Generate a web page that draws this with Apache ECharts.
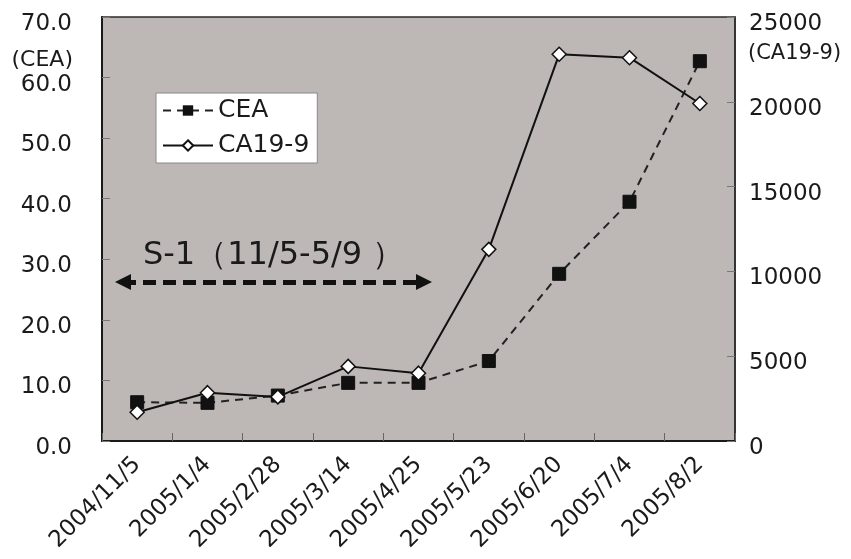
<!DOCTYPE html>
<html>
<head>
<meta charset="utf-8">
<script src="https://cdn.jsdelivr.net/npm/echarts@6/dist/echarts.min.js"></script>
<style>
  html, body { margin: 0; padding: 0; background: #fff; }
  #chart { width: 851px; height: 559px; }
</style>
</head>
<body>
<div id="chart"></div>
<script>
// 日付ラベル
const dates = ['2004/11/5', '2005/1/4', '2005/2/28', '2005/3/14', '2005/4/25',
  '2005/5/23', '2005/6/20', '2005/7/4', '2005/8/2']
// CEA (左軸)
const ceaValues = [6.4, 6.3, 7.5, 9.6, 9.6, 13.2, 27.6, 39.5, 62.7]
// CA19-9 (右軸)
const ca199Values = [1700, 2850, 2600, 4400, 4000, 11300, 22800, 22600, 19900]

const FONT = 'DejaVu Sans'

const chart = echarts.init(document.getElementById('chart'))

// ラベルを少し下にずらす
const lowRich = { a: { fontFamily: FONT, fontSize: 23, color: '#1a1a1a', padding: [14, 0, 0, 0] } }

const option = {
  animation: false,
  textStyle: { fontFamily: FONT, color: '#1a1a1a' },
  grid: {
    left: 102, right: 116, top: 17, bottom: 118,
    show: true,
    backgroundColor: '#bdb7b5',
    borderColor: '#2a2a2a',
    borderWidth: 1.5
  },
  legend: {
    left: 156, top: 93,
    orient: 'vertical',
    itemGap: 10,
    itemWidth: 50,
    itemHeight: 13,
    padding: [5, 8, 5, 6],
    backgroundColor: '#fff',
    borderColor: '#888',
    borderWidth: 1,
    borderRadius: 0,
    textStyle: { fontFamily: FONT, fontSize: 25, color: '#1a1a1a' },
    data: ['CEA', 'CA19-9']
  },
  xAxis: {
    type: 'category',
    data: dates,
    boundaryGap: true,
    axisLine: { lineStyle: { color: '#1a1a1a', width: 2 } },
    axisTick: { show: true, inside: true, length: 8, lineStyle: { color: '#666' } },
    axisLabel: {
      rotate: 45, margin: 20, interval: 0,
      fontFamily: FONT, fontSize: 23, color: '#1a1a1a'
    },
    splitLine: { show: false }
  },
  yAxis: [
    {
      type: 'value', min: 0, max: 70, interval: 10,
      axisLine: { show: true, lineStyle: { color: '#1a1a1a', width: 2 } },
      axisTick: { show: true, inside: true, length: 8, lineStyle: { color: '#777' } },
      axisLabel: {
        margin: 30,
        formatter: v => '{a|' + v.toFixed(1) + '}',
        rich: lowRich
      },
      splitLine: { show: false }
    },
    {
      type: 'value', min: 0, max: 25000, interval: 5000,
      axisLine: { show: true, lineStyle: { color: '#2a2a2a', width: 1.5 } },
      axisTick: { show: true, inside: true, length: 8, lineStyle: { color: '#777' } },
      axisLabel: {
        margin: 14,
        formatter: v => '{a|' + v + '}',
        rich: lowRich
      },
      splitLine: { show: false }
    }
  ],
  series: [
    {
      name: 'CEA',
      type: 'line',
      yAxisIndex: 0,
      data: ceaValues,
      symbol: 'rect',
      symbolSize: 13,
      itemStyle: { color: '#111', borderColor: '#111' },
      lineStyle: { color: '#222', width: 2, type: [8, 6] },
      z: 3,
      markLine: {
        silent: true,
        symbol: ['triangle', 'triangle'],
        symbolSize: [16, 16],
        label: { show: false },
        lineStyle: { color: '#111', width: 5, type: [13, 7] },
        data: [[{ x: 123, y: 282 }, { x: 424, y: 282 }]]
      }
    },
    {
      name: 'CA19-9',
      type: 'line',
      yAxisIndex: 1,
      data: ca199Values,
      symbol: 'diamond',
      symbolSize: 14,
      itemStyle: { color: '#fff', borderColor: '#111', borderWidth: 1.5 },
      lineStyle: { color: '#111', width: 2 },
      z: 4
    }
  ],
  graphic: [
    {
      type: 'text', right: 851 - 73, top: 49,
      style: { text: '(CEA)', fontFamily: FONT, fontSize: 22, fill: '#1a1a1a', textAlign: 'right' }
    },
    {
      type: 'text', left: 748, top: 43,
      style: { text: '(CA19-9)', fontFamily: FONT, fontSize: 21, fill: '#1a1a1a' }
    },
    {
      type: 'text', left: 143, top: 240,
      style: { text: 'S-1（11/5-5/9 ）', fontFamily: FONT, fontSize: 32, fill: '#1a1a1a' }
    }
  ]
}

chart.setOption(option)
window.addEventListener('resize', () => chart.resize())
</script>
</body>
</html>
